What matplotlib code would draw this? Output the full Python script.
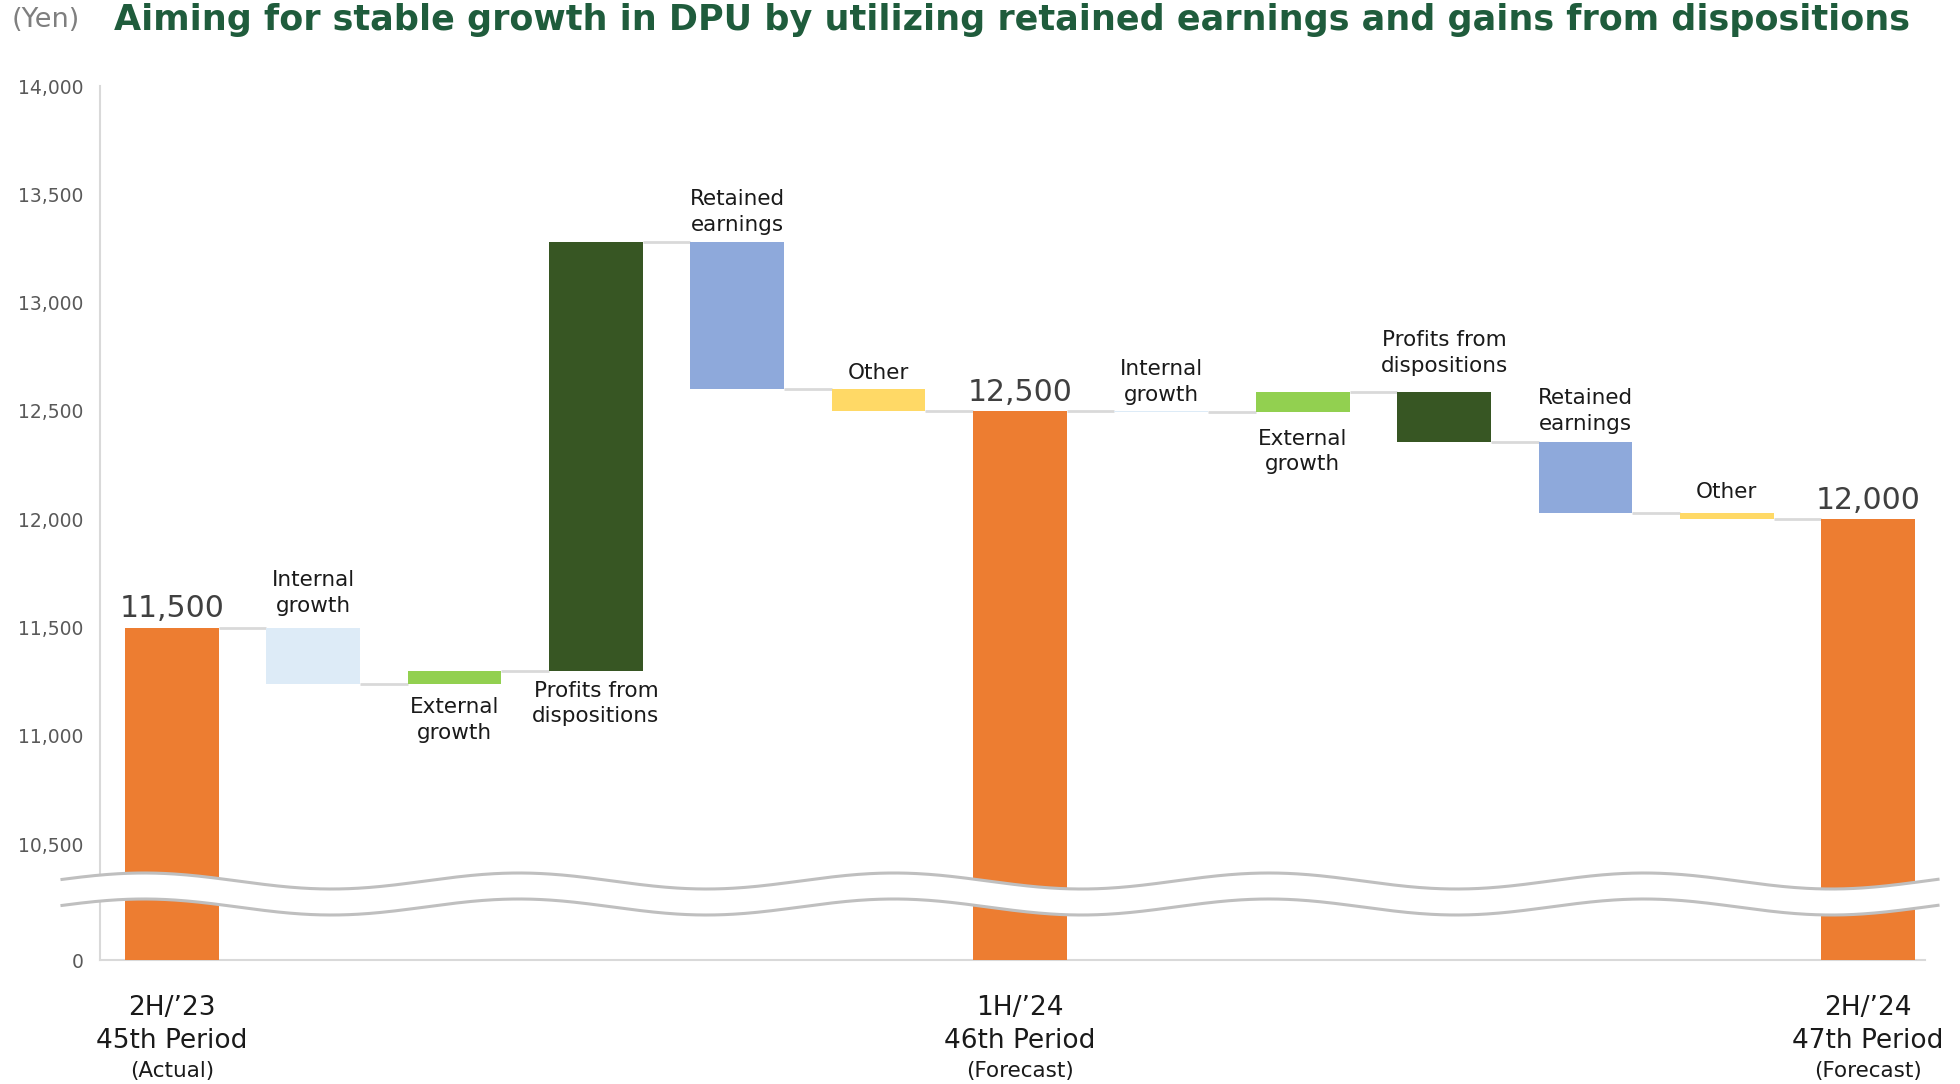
import matplotlib
matplotlib.use("Agg")
import matplotlib.pyplot as plt
import numpy as np
from matplotlib.transforms import blended_transform_factory

# ---------------- data ----------------
title = "Aiming for stable growth in DPU by utilizing retained earnings and gains from dispositions"
unit_label = "(Yen)"
bar_labels = ["", "Internal\ngrowth", "External\ngrowth", "Profits from\ndispositions",
              "Retained\nearnings", "Other", "",
              "Internal\ngrowth", "External\ngrowth", "Profits from\ndispositions",
              "Retained\nearnings", "Other", ""]
kinds = ["total", "delta", "delta", "delta", "delta", "delta", "total",
         "delta", "delta", "delta", "delta", "delta", "total"]
amounts = [11500, -262, 62, 1980, -680, -100, 12500,
           -5, 90, -230, -325, -30, 12000]
label_side = ["", "above", "below", "below", "above", "above", "",
              "above", "below", "above", "above", "above", ""]
label_gap_pt = [0, 8.5, 9.5, 7, 5, 4.5, 0, 4.5, 12, 12, 6, 8, 0]
bar_colors = ["#ED7D31", "#DDEBF7", "#92D050", "#375623", "#8EA9DB", "#FFD966", "#ED7D31",
              "#DDEBF7", "#92D050", "#375623", "#8EA9DB", "#FFD966", "#ED7D31"]
period_idx = [0, 6, 12]
period_line1 = ["2H/\u201923", "1H/\u201924", "2H/\u201924"]
period_line2 = ["45th Period", "46th Period", "47th Period"]
period_line3 = ["(Actual)", "(Forecast)", "(Forecast)"]
ytick_vals = [9965, 10500, 11000, 11500, 12000, 12500, 13000, 13500, 14000]
ytick_labels = ["0", "10,500", "11,000", "11,500", "12,000", "12,500", "13,000", "13,500", "14,000"]

# ---------------- figure ----------------
W, H = 1960, 1084
fig = plt.figure(figsize=(W / 100, H / 100), dpi=100)
fig.patch.set_facecolor("white")
ax = fig.add_axes([100 / W, 1 - 960 / H, (1925 - 100) / W, (960 - 86) / H])

n = len(amounts)
x = np.arange(n)
width = 0.663

bottoms, heights, ends = [], [], []
level = 0
for kind, amt in zip(kinds, amounts):
    if kind == "total":
        b, h = 0, amt
        level = amt
    else:
        new = level + amt
        b, h = min(level, new), abs(amt)
        level = new
    bottoms.append(b)
    heights.append(h)
    ends.append(level)

ax.bar(x, heights, bottom=bottoms, width=width, color=bar_colors, zorder=3)

# connectors
for i in range(n - 1):
    ax.plot([x[i] + width / 2, x[i + 1] - width / 2], [ends[i], ends[i]],
            color="#D9D9D9", lw=2, zorder=2, solid_capstyle="butt")

# category labels
for i in range(n):
    top = bottoms[i] + heights[i]
    if label_side[i] == "above":
        ax.annotate(bar_labels[i], (x[i], top), xytext=(0, label_gap_pt[i]),
                    textcoords="offset points", ha="center", va="bottom",
                    fontsize=15.5, color="#1A1A1A", linespacing=1.35)
    elif label_side[i] == "below":
        ax.annotate(bar_labels[i], (x[i], bottoms[i]), xytext=(0, -label_gap_pt[i]),
                    textcoords="offset points", ha="center", va="top",
                    fontsize=15.5, color="#1A1A1A", linespacing=1.35)
    if kinds[i] == "total":
        ax.annotate(f"{amounts[i]:,}", (x[i], top), xytext=(0, 3), textcoords="offset points",
                    ha="center", va="bottom", fontsize=21.5, color="#404040")

ax.set_xlim(-0.508, n - 1 + 0.402)
ax.set_ylim(9965, 14000)
ax.set_yticks(ytick_vals)
ax.set_yticklabels(ytick_labels, fontsize=13.5, color="#595959")
ax.set_xticks([])
ax.tick_params(axis="y", length=0, pad=12)
for s in ["top", "right"]:
    ax.spines[s].set_visible(False)
for s in ["left", "bottom"]:
    ax.spines[s].set_color("#D9D9D9")
    ax.spines[s].set_linewidth(1.5)

# period labels (data x, figure y)
tr = blended_transform_factory(ax.transData, fig.transFigure)
for k, i in enumerate(period_idx):
    ax.text(x[i], 1 - 1008 / H, period_line1[k], transform=tr, ha="center", va="center",
            fontsize=19, color="#1A1A1A")
    ax.text(x[i], 1 - 1041 / H, period_line2[k], transform=tr, ha="center", va="center",
            fontsize=19, color="#1A1A1A")
    ax.text(x[i], 1 - 1071 / H, period_line3[k], transform=tr, ha="center", va="center",
            fontsize=15.5, color="#1A1A1A")

# ---------------- break decoration (pixel overlay) ----------------
ov = fig.add_axes([0, 0, 1, 1], zorder=5)
ov.set_xlim(0, W)
ov.set_ylim(H, 0)
ov.axis("off")
ov.patch.set_alpha(0)
xs = np.linspace(62, 1938, 800)
phase = np.cos(2 * np.pi * (xs - 144) / 375)
y_up = 881 - 8 * phase
y_lo = 907 - 8 * phase
ov.fill_between(xs, y_up, y_lo, color="white", lw=0)
ov.plot(xs, y_up, color="#BFBFBF", lw=2.2)
ov.plot(xs, y_lo, color="#BFBFBF", lw=2.2)

# ---------------- title & unit ----------------
fig.text(12 / W, 1 - 20 / H, unit_label, ha="left", va="center", fontsize=19.5, color="#7F7F7F")
t = fig.text(1012 / W, 1 - 30 / H, title, ha="center", va="baseline", fontsize=22,
             fontweight="bold", color="#1F5C3C")
fig.canvas.draw()
bb = t.get_window_extent()
t.set_fontsize(22 * 1790 / bb.width)

fig.savefig("out.png", dpi=100)
